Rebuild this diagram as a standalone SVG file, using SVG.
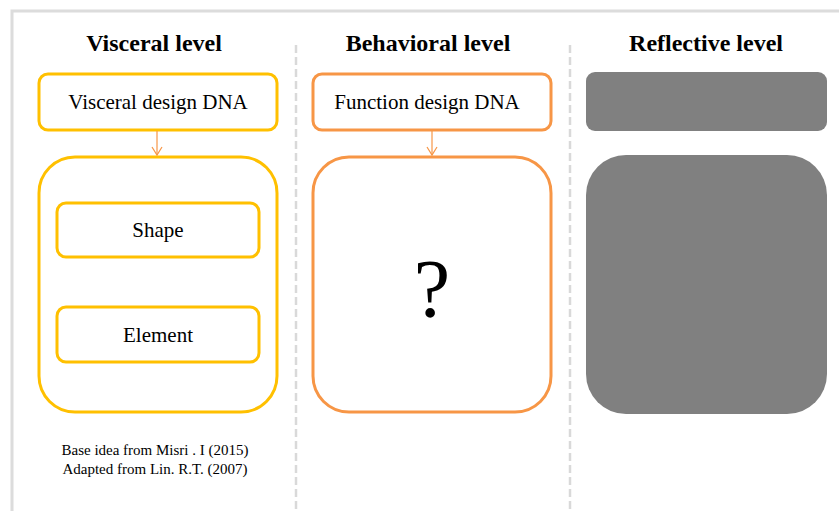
<svg xmlns="http://www.w3.org/2000/svg" width="839" height="511" viewBox="0 0 839 511">
<style>
.title{font-family:"Liberation Serif","Times New Roman",serif;font-weight:bold;font-size:24px;fill:#000;text-anchor:middle}
.lbl{font-family:"Liberation Serif","Times New Roman",serif;font-size:21px;fill:#000;text-anchor:middle}
.note{font-family:"Liberation Serif","Times New Roman",serif;font-size:15px;fill:#000;text-anchor:middle}
.yel{fill:#fff;stroke:#FFC000;stroke-width:3}
.org{fill:#fff;stroke:#F79646;stroke-width:3}
.gray{fill:#808080;stroke:none}
.sep{stroke:#d9d9d9;stroke-width:2.5;stroke-dasharray:8,4;fill:none}
.conn{stroke:#F79646;stroke-width:1.2;fill:none}
</style>
<defs>
<marker id="arr" markerWidth="12" markerHeight="12" refX="9" refY="6" orient="auto" markerUnits="userSpaceOnUse" viewBox="0 0 12 12">
<path d="M1,1 L9,6 L1,11" fill="none" stroke="#F79646" stroke-width="1.2"/>
</marker>
</defs>
<rect x="0" y="0" width="839" height="511" fill="#fff"/>
<path d="M12,511 L12,11 L845,11" fill="none" stroke="#dcdcdc" stroke-width="3"/>
<g id="separators">
<line class="sep" x1="296" y1="45" x2="296" y2="511"/>
<line class="sep" x1="570" y1="45" x2="570" y2="511"/>
</g>
<g id="titles">
<text class="title" x="154" y="51">Visceral level</text>
<text class="title" x="428" y="51">Behavioral level</text>
<text class="title" x="706" y="51">Reflective level</text>
</g>
<g id="visceral-dna"><rect class="yel" x="39" y="74" width="238" height="56" rx="9"/><text class="lbl" x="158" y="109">Visceral design DNA</text></g>
<g id="visceral-box"><rect class="yel" x="39" y="157" width="238" height="255" rx="36"/></g>
<g id="shape"><rect class="yel" x="57" y="203" width="202" height="54" rx="9"/><text class="lbl" x="158" y="237">Shape</text></g>
<g id="element"><rect class="yel" x="57" y="307" width="202" height="55" rx="9"/><text class="lbl" x="158" y="342">Element</text></g>
<g id="function-dna"><rect class="org" x="313" y="74" width="238" height="56" rx="9"/><text class="lbl" x="427" y="109">Function design DNA</text></g>
<g id="function-box"><rect class="org" x="313" y="157" width="238" height="255" rx="36"/><text x="432" y="316" style="font-family:'Liberation Serif','Times New Roman',serif;font-size:82px;fill:#000;text-anchor:middle">?</text></g>
<g id="reflective-top"><rect class="gray" x="586" y="72" width="241" height="59" rx="9"/></g>
<g id="reflective-box"><rect class="gray" x="586" y="155" width="241" height="259" rx="40"/></g>
<g id="connectors">
<line class="conn" x1="157" y1="131" x2="157" y2="155" marker-end="url(#arr)"/>
<line class="conn" x1="432" y1="131" x2="432" y2="155" marker-end="url(#arr)"/>
</g>
<g id="note">
<text class="note" x="155" y="455">Base idea from Misri . I (2015)</text>
<text class="note" x="155" y="474">Adapted from Lin. R.T. (2007)</text>
</g>
</svg>
